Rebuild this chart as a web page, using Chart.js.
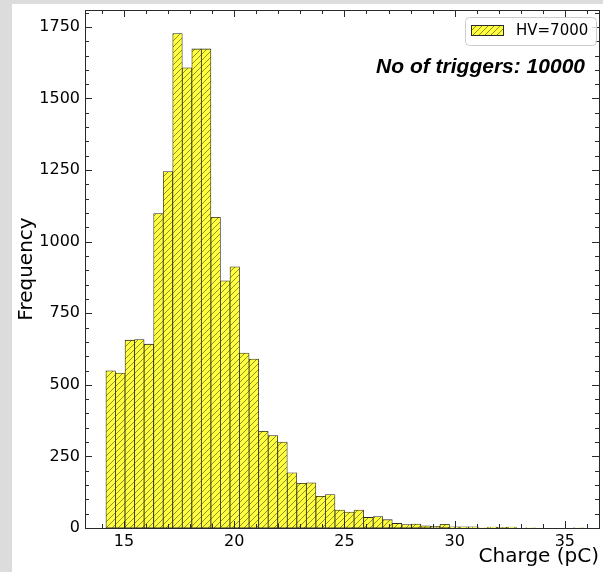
<!DOCTYPE html>
<html>
<head>
<meta charset="utf-8">
<script src="https://cdn.jsdelivr.net/npm/chart.js@4/dist/chart.umd.min.js"></script>
<style>
  html, body { margin: 0; padding: 0; background: #dcdcdc; overflow: hidden; }
  #wrap { position: absolute; left: 12px; top: 4px; width: 591px; height: 568px; background: #fff; }
</style>
</head>
<body>
<div id="wrap"><canvas id="histChart" width="591" height="568"></canvas></div>
<script>
// histogram bins (charge in pC)
const binStart = 14.18;
const binWidth = 0.433;
const counts = [
  549, 541, 656, 658, 642, 1098, 1245, 1727, 1607, 1673,
  1673, 1085, 863, 912, 611, 590, 338, 323, 300, 193,
  156, 158, 111, 117, 63, 56, 63, 37, 40, 29,
  16, 12, 14, 8, 6, 13, 4, 4, 4, 1,
  3, 2, 3, 0, 1, 0, 0, 0, 0, 1
];
const xTickValues = [15, 20, 25, 30, 35];
const yTickValues = [0, 250, 500, 750, 1000, 1250, 1500, 1750];
const seriesLabel = 'HV=7000';
const noteText = 'No of triggers: 10000';

const X_MIN = 13.23, X_MAX = 36.55, Y_MAX = 1809;
const EDGE = '#2a2a2a';

// yellow fill with "///" hatch
function makeHatch() {
  const s = 6;
  const c = document.createElement('canvas');
  c.width = s; c.height = s;
  const g = c.getContext('2d');
  g.fillStyle = '#ffff40';
  g.fillRect(0, 0, s, s);
  g.strokeStyle = 'rgba(70,70,0,0.6)';
  g.lineWidth = 1;
  g.beginPath();
  g.moveTo(0, s); g.lineTo(s, 0);
  g.moveTo(-1, 1); g.lineTo(1, -1);
  g.moveTo(s - 1, s + 1); g.lineTo(s + 1, s - 1);
  g.stroke();
  return g.createPattern(c, 'repeat');
}

const ctx = document.getElementById('histChart').getContext('2d');
const hatch = makeHatch();

const histData = counts.map((c, i) => ({ x: binStart + binWidth * (i + 0.5), y: c }));

const noPad = (s) => { s.paddingTop = 0; s.paddingBottom = 0; s.paddingLeft = 0; s.paddingRight = 0; };

// frame + inward ticks on all four sides
const frameTicks = {
  id: 'frameTicks',
  afterDatasetsDraw(chart) {
    const { ctx, chartArea: a, scales: { x, y } } = chart;
    ctx.save();
    ctx.strokeStyle = EDGE;
    ctx.lineWidth = 1;
    ctx.beginPath();
    for (let v = 14; v <= 36; v++) {
      const px = Math.round(x.getPixelForValue(v)) + 0.5;
      const len = xTickValues.includes(v) ? 7 : 4;
      ctx.moveTo(px, a.bottom); ctx.lineTo(px, a.bottom - len);
      ctx.moveTo(px, a.top); ctx.lineTo(px, a.top + len);
    }
    for (let v = 0; v <= 1800; v += 50) {
      const py = Math.round(y.getPixelForValue(v)) + 0.5;
      const len = yTickValues.includes(v) ? 7 : 4;
      ctx.moveTo(a.left, py); ctx.lineTo(a.left + len, py);
      ctx.moveTo(a.right, py); ctx.lineTo(a.right - len, py);
    }
    ctx.stroke();
    ctx.strokeRect(Math.round(a.left) + 0.5, Math.round(a.top) + 0.5,
      Math.round(a.right - a.left), Math.round(a.bottom - a.top));
    ctx.restore();
  },
  afterDraw(chart) {
    const { ctx, chartArea: a } = chart;
    ctx.save();
    // legend box
    const bx = a.right - 134, by = a.top + 7, bw = 131, bh = 28;
    ctx.fillStyle = 'rgba(255,255,255,0.8)';
    ctx.strokeStyle = '#cccccc';
    ctx.lineWidth = 1;
    ctx.beginPath();
    ctx.roundRect(bx + 0.5, by + 0.5, bw, bh, 4);
    ctx.fill();
    ctx.stroke();
    ctx.fillStyle = hatch;
    ctx.fillRect(bx + 6, by + 8, 32, 10);
    ctx.strokeStyle = EDGE;
    ctx.strokeRect(bx + 6.5, by + 8.5, 32, 10);
    ctx.fillStyle = '#000';
    ctx.font = '15px "DejaVu Sans"';
    ctx.textBaseline = 'middle';
    ctx.textAlign = 'left';
    ctx.fillText(seriesLabel, bx + 51, by + 14);
    // annotation
    ctx.font = 'italic bold 21px "Liberation Sans"';
    ctx.textAlign = 'right';
    ctx.fillText(noteText, a.right - 14, a.top + 57);
    ctx.restore();
  }
};

new Chart(ctx, {
  type: 'bar',
  data: {
    datasets: [{
      label: seriesLabel,
      data: histData,
      backgroundColor: hatch,
      borderColor: EDGE,
      borderWidth: 0.8,
      borderSkipped: false,
      barPercentage: 1,
      categoryPercentage: 1
    }]
  },
  options: {
    responsive: false,
    animation: false,
    devicePixelRatio: 1,
    layout: { padding: { left: 0, top: 6, right: 4, bottom: 0 } },
    plugins: { legend: { display: false }, tooltip: { enabled: false } },
    scales: {
      x: {
        type: 'linear',
        min: X_MIN,
        max: X_MAX,
        offset: false,
        grid: { display: false, drawTicks: false },
        border: { display: false },
        afterBuildTicks: (s) => { s.ticks = xTickValues.map(v => ({ value: v })); },
        afterFit: (s) => { s.height = 44; noPad(s); },
        ticks: {
          color: '#000',
          padding: 4,
          maxRotation: 0,
          autoSkip: false,
          callback: (v) => String(v),
          font: { family: 'DejaVu Sans', size: 16 }
        },
        title: {
          display: true,
          text: 'Charge (pC)',
          align: 'end',
          color: '#000',
          padding: { top: 0, bottom: 3 },
          font: { family: 'DejaVu Sans', size: 20 }
        }
      },
      y: {
        min: 0,
        max: Y_MAX,
        grid: { display: false, drawTicks: false },
        border: { display: false },
        afterBuildTicks: (s) => { s.ticks = yTickValues.map(v => ({ value: v })); },
        afterFit: (s) => { s.width = 73; noPad(s); },
        ticks: {
          color: '#000',
          padding: 5,
          autoSkip: false,
          callback: (v) => String(v),
          font: { family: 'DejaVu Sans', size: 16 }
        },
        title: {
          display: true,
          text: 'Frequency',
          color: '#000',
          padding: { top: 3, bottom: 0 },
          font: { family: 'DejaVu Sans', size: 20 }
        }
      }
    }
  },
  plugins: [frameTicks]
});
</script>
</body>
</html>
